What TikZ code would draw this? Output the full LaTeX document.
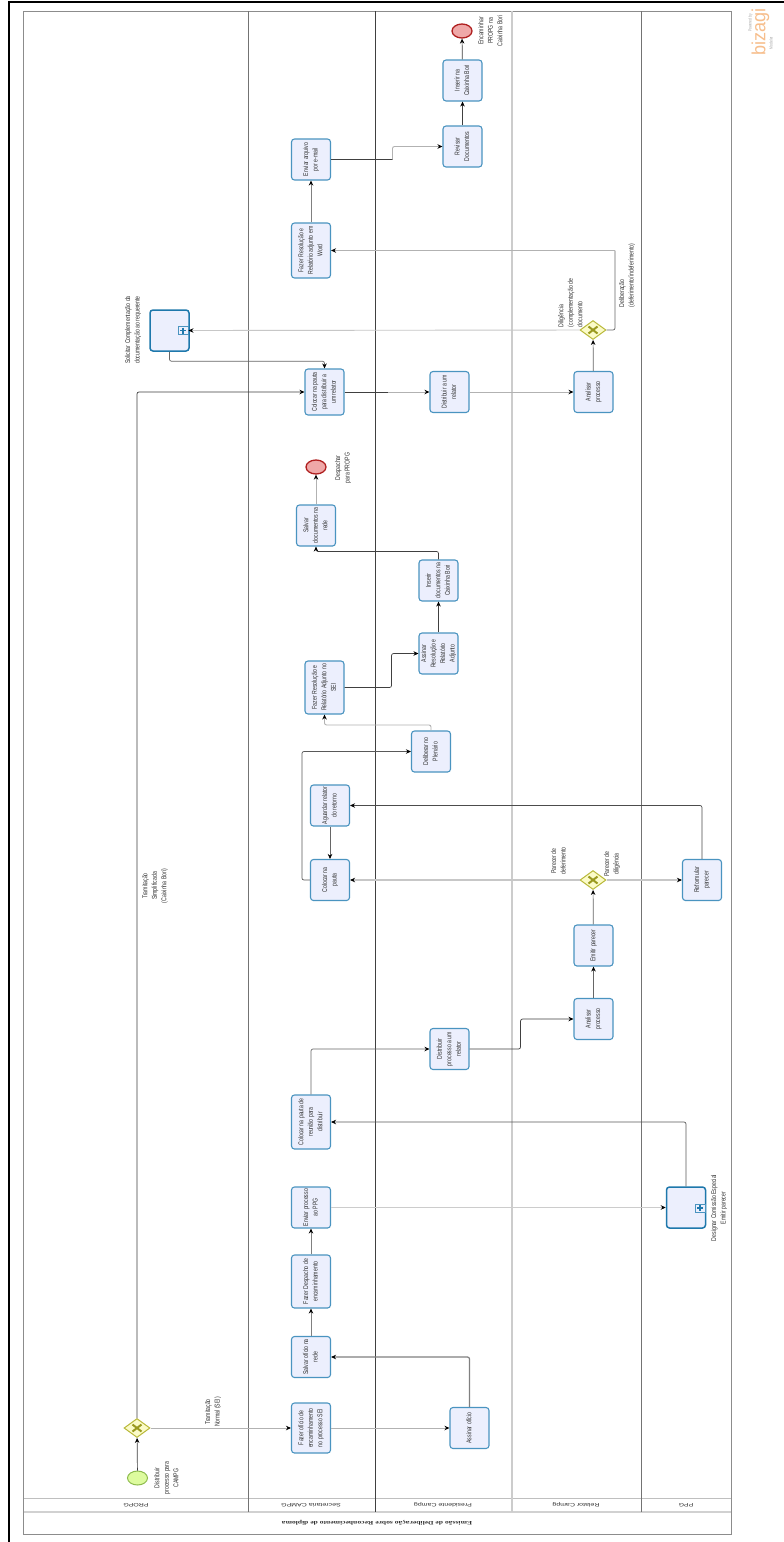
\documentclass[tikz,border=0pt]{standalone}
\usepackage{fontspec}
\usepackage{graphicx}
\setmainfont[FakeStretch=0.74]{Liberation Sans}
\newfontfamily\lanef{Liberation Sans}
\newfontfamily\titlef{Liberation Serif}
\usetikzlibrary{arrows.meta,shapes.geometric}
\definecolor{taskfill}{HTML}{ECEFFD}
\definecolor{taskline}{HTML}{4A94C0}
\definecolor{subline}{HTML}{1E78AC}
\definecolor{gwfill}{HTML}{FBFBC8}
\definecolor{gwline}{HTML}{B9B93A}
\definecolor{gwx}{HTML}{9A9A20}
\definecolor{startfill}{HTML}{DDFB9E}
\definecolor{startline}{HTML}{8DBB4C}
\definecolor{endfill}{HTML}{EFA8A8}
\definecolor{endline}{HTML}{B02020}
\definecolor{txt}{HTML}{303030}
\definecolor{logoor}{HTML}{F7BE8C}
\newcommand{\rt}[1]{\rotatebox{90}{\fontsize{7}{9.5}\selectfont\begin{tabular}{@{}c@{}}#1\end{tabular}}}
\newcommand{\rl}[1]{\rotatebox{90}{\fontsize{7}{9.5}\selectfont\begin{tabular}{@{}l@{}}#1\end{tabular}}}
\newcommand{\lanet}[1]{\rotatebox{180}{\scalebox{1}[.7]{\lanef\fontsize{7}{8}\selectfont #1}}}
\tikzset{
  x=1pt,y=-1pt,
  lane/.style={line width=1pt},
  taskbox/.style={draw=taskline,fill=taskfill,line width=1.1pt,rounded corners=3pt,inner sep=0pt,text=txt,minimum width=39pt,minimum height=41pt},
  subbox/.style={taskbox,draw=subline,line width=1.5pt,minimum height=41pt},
  marker/.style={draw=taskline,fill=taskfill,line width=.9pt,minimum width=10pt,minimum height=8pt,inner sep=0pt},
  gw/.style={diamond,draw=gwline,fill=gwfill,line width=1pt,minimum width=26pt,minimum height=19pt,inner sep=0pt,aspect=1.37},
  startev/.style={ellipse,draw=startline,fill=startfill,line width=1pt,minimum width=20pt,minimum height=14pt,inner sep=0pt},
  endev/.style={ellipse,draw=endline,fill=endfill,line width=1.3pt,minimum width=20pt,minimum height=14pt,inner sep=0pt},
  conn/.style={draw=black!75,line width=.7pt,rounded corners=2pt,-{Stealth[length=5pt,width=4.5pt,color=black]}},
  connl/.style={draw=black!30,line width=.9pt,rounded corners=2pt,-{Stealth[length=5pt,width=4.5pt,color=black]}},
  plain/.style={draw=black!75,line width=.7pt,rounded corners=2pt},
  lbl/.style={inner sep=0pt,text=txt},
}
\begin{document}
\begin{tikzpicture}
\useasboundingbox (0,0) rectangle (784,1542);
\fill[white] (0,0) rectangle (784,1542);
% page edge
\draw[black,line width=2pt] (784,2) -- (9,2) -- (9,1542);
% pool
\draw[black!45,lane] (23.5,11) rectangle (731,1534);
\draw[black!25,line width=.8pt] (23.5,1498) -- (731,1498);
\draw[black!18,line width=1.6pt] (23.5,1512) -- (731,1512);
\draw[black!55,lane] (248,11) -- (248,1512);
\draw[black!75,lane] (375.5,11) -- (375.5,1512);
\draw[black!20,line width=1.2pt] (512,11) -- (512,1512);
\draw[black!55,lane] (641,11) -- (641,1512);
% lane labels
\node[lbl] (tl) at (377,1523) {\rotatebox{180}{\scalebox{1}[.7]{\titlef\bfseries\fontsize{7.6}{9}\selectfont Emissão de Deliberação sobre Reconhecimento de diploma}}};
\node[lbl] (l1) at (136,1505) {\lanet{PROPG}};
\node[lbl] (l2) at (311,1505) {\lanet{Secretaria CAMPG}};
\node[lbl] (l3) at (443,1505) {\lanet{Presidente Campg}};
\node[lbl] (l4) at (576,1505) {\lanet{Relator Campg}};
\node[lbl] (l5) at (686,1505) {\lanet{PPG}};
% events and gateways
\node[startev] (start) at (137.5,1478) {};
\node[gw] (g1) at (137,1428) {};
\node[gw] (g2) at (593,880) {};
\node[gw] (g3) at (593,330) {};
\foreach \g in {g1,g2,g3}{
  \draw[gwx,line width=2pt] (\g) ++(-4.5,-3.5) -- ++(9,7);
  \draw[gwx,line width=2pt] (\g) ++(-4.5,3.5) -- ++(9,-7);
}
\node[endev] (end1) at (316,467) {};
\node[endev] (end2) at (462,31) {};
% tasks
\node[taskbox,minimum height=50pt] (t1) at (311,1428) {\rt{Fazer ofício de\\encaminhamento\\no processo SEI}};
\node[taskbox] (t2) at (311,1357) {\rt{Salvar ofício na\\rede}};
\node[taskbox] (t3) at (469.5,1428) {\rt{Assinar ofício}};
\node[taskbox,minimum height=53pt] (t4) at (311,1281.5) {\rt{Fazer Despacho de\\encaminhamento}};
\node[taskbox] (t5) at (311,1207.5) {\rt{Enviar processo\\ao PPG}};
\node[subbox] (sp1) at (686,1207.5) {};
\node[marker] (m1) at (700,1208) {};
\node[taskbox,minimum height=54pt] (t6) at (311,1122) {\rt{Colocar na pauta de\\reunião para\\distribuir}};
\node[taskbox] (t7) at (449.5,1049) {\rt{Distribuir\\processo a um\\relator}};
\node[taskbox] (t8) at (593.5,1019) {\rt{Analisar\\processo}};
\node[taskbox] (t9) at (593.5,945.5) {\rt{Emitir parecer}};
\node[taskbox] (t10) at (702,880) {\rt{Reformular\\parecer}};
\node[taskbox] (t11) at (330,880) {\rt{Colocar na\\pauta}};
\node[taskbox] (t12) at (330,805.5) {\rt{Aguardar relator\\do retorno}};
\node[taskbox] (t13) at (431,751.5) {\rt{Deliberar no\\Plenário}};
\node[taskbox,minimum height=53pt] (t14) at (324.5,687.5) {\rt{Fazer Resolução e\\Relatório Adjunto no\\SEI}};
\node[taskbox] (t15) at (438.5,653.5) {\rt{Assinar\\Resolução e\\Relatório\\Adjunto}};
\node[taskbox] (t16) at (438.5,580.5) {\rt{Inserir\\documentos na\\Caixinha Bori}};
\node[taskbox] (t17) at (316,525.5) {\rt{Salvar\\documentos na\\rede}};
\node[taskbox,minimum height=46pt] (t18) at (324.5,392) {\rt{Colocar na pauta\\para distribuir a\\um relator}};
\node[taskbox] (t19) at (449.5,392) {\rt{Distribuir a um\\relator}};
\node[taskbox] (t20) at (593.5,392) {\rt{Analisar\\processo}};
\node[subbox] (sp2) at (169.5,330.5) {};
\node[marker] (m2) at (183,330.5) {};
\node[taskbox,minimum height=55pt] (t21) at (311,250.5) {\rt{Fazer Resolução e\\Relatório adjunto em\\Word}};
\node[taskbox] (t22) at (311,159.5) {\rt{Enviar arquivo\\por e-mail}};
\node[taskbox] (t23) at (462.5,146.5) {\rt{Revisar\\Documentos}};
\node[taskbox] (t24) at (462.5,80.5) {\rt{Inserir na\\Caixinha Bori}};
\foreach \m in {m1,m2}{
  \draw[subline,line width=1.2pt] (\m) ++(-3,0) -- ++(6,0);
  \draw[subline,line width=1.2pt] (\m) ++(0,-3) -- ++(0,6);
}
% connectors
\draw[conn] (start) -- (g1);
\draw[connl] (g1) -- (t1);
\draw[connl] (t1) -- (t3);
\draw[connl,draw=black!50,line width=1.2pt] (t3.north) |- (t2.east);
\draw[connl,draw=black!50] (t2) -- (t4);
\draw[connl,draw=black!50] (t4) -- (t5);
\draw[connl,draw=black!20] (t5) -- (sp1);
\draw[conn,draw=black!65] (sp1.north) |- (t6.east);
\draw[conn,draw=black!60] (t6.north) |- (t7.west);
\draw[conn] (t7.east) -- ++(51,0) |- (t8.west);
\draw[conn,draw=black!60] (t8) -- (t9);
\draw[conn,draw=black!60] (t9) -- (g2);
\draw[connl,draw=black!22,line width=1.2pt] (g2) -- (t11);
\draw[connl,draw=black!22,line width=1.2pt] (g2) -- (t10);
\draw[conn,draw=black!70] (t10.north) |- (t12.east);
\draw[conn,draw=black!60] (t12) -- (t11);
\draw[conn,draw=black!65] (t11.west) -- ++(-8,0) |- (t13.west);
\draw[connl] (t13.north) -- ++(0,-5.5) -| (t14.south);
\draw[conn] (t14.east) -- ++(47,0) |- (t15.west);
\draw[conn] (t15) -- (t16);
\draw[conn] (t16.north) -- ++(0,-8) -| (t17.south);
\draw[connl] (t17) -- (end1);
\draw[conn] (g1.north) |- (t18.west);
\draw[conn,draw=black!60] (sp2.south) -- ++(0,9.5) -| (t18.north);
\coordinate (c18) at (388,392);
\draw[plain] (t18.east) -- (c18);
\draw[connl] (c18) -- (t19);
\draw[connl] (t19) -- (t20);
\draw[conn,draw=black!60] (t20) -- (g3);
\draw[connl,draw=black!22] (g3) -- (m2.east);
\coordinate (c3) at (615,250.5);
\draw[plain,draw=black!60] (g3.east) -| (c3);
\draw[connl] (c3) -- (t21.east);
\draw[connl,draw=black!50] (t21) -- (t22);
\coordinate (c22) at (392.5,159.5);
\draw[plain] (t22.east) -- (c22);
\draw[connl] (c22) |- (t23.west);
\draw[conn] (t23) -- (t24);
\draw[conn] (t24) -- (end2);
% labels
\node[lbl] (a1) at (167,1478) {\rt{Distribuir\\processo para\\CAMPG}};
\node[lbl] (a2) at (213,1412) {\rt{Tramitação\\Normal (SEI)}};
\node[lbl] (a3) at (155,886) {\rt{Tramitação\\Simplificada\\(Caixinha Bori)}};
\node[lbl] (a4) at (559,861) {\rt{Parecer de\\deferimento}};
\node[lbl] (a5) at (612,864) {\rt{Parecer de\\diligência}};
\node[lbl] (a6) at (571,303) {\rl{Diligência\\(complementação de\\documento}};
\node[lbl] (a7) at (627,275.5) {\rl{Deliberação\\(deferimento/indeferimento)}};
\node[lbl] (a8) at (719,1208) {\rt{Designar Comissão Especial\\Emitir parecer}};
\node[lbl] (a9) at (133,330) {\rt{Solicitar Complementação da\\documentação ao requerente}};
\node[lbl] (a10) at (343,468) {\rt{Despachar\\para PROPG}};
\node[lbl] (a11) at (491,31) {\rt{Encaminhar\\PROPG na\\Caixinha Bori}};
% logo
\node[lbl,text=black!35] (p1) at (750.5,23) {\rotatebox{90}{\fontsize{4.5}{5}\selectfont Powered by}};
\node[lbl,text=logoor] (p2) at (760.5,32) {\rotatebox{90}{\scalebox{.95}[1]{\lanef\fontsize{19}{20}\selectfont bizagi}}};
\node[lbl,text=black!35] (p3) at (771,43) {\rotatebox{90}{\fontsize{4.5}{5}\selectfont Modeler}};
\end{tikzpicture}
\end{document}
